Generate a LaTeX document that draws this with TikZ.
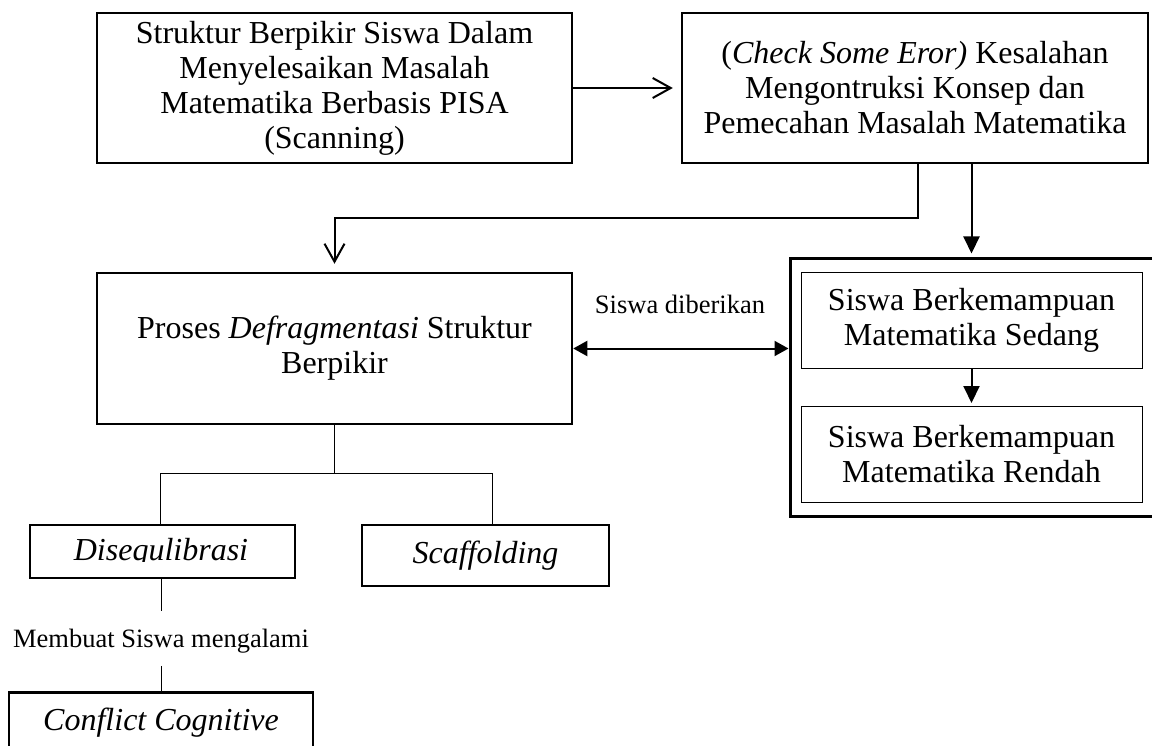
\documentclass[tikz,border=0pt]{standalone}
\usepackage{fontspec}
\setmainfont{Liberation Serif}
\usetikzlibrary{arrows.meta}
\begin{document}
\begin{tikzpicture}[x=1bp,y=-1bp,
  bigfont/.style={font=\fontsize{32bp}{35bp}\selectfont},
  smallfont/.style={font=\fontsize{26.5bp}{30bp}\selectfont},
  mainbox/.style={draw, line width=2.5bp, inner sep=0pt, align=center, bigfont},
  innerbox/.style={draw, line width=1bp, inner sep=0pt, align=center, bigfont},
  groupbox/.style={draw, line width=3bp, inner sep=0pt},
  openarrow/.style={line width=2bp, -{Straight Barb[length=18bp,width=20bp]}},
  fillarrow/.style={line width=2bp, -{Triangle[length=17bp,width=16bp]}},
  botharrow/.style={line width=2bp, {Triangle[length=14bp,width=15bp]}-{Triangle[length=14bp,width=15bp]}},
  thinline/.style={line width=1bp},
  label/.style={smallfont, inner sep=0pt, anchor=base}
]
\useasboundingbox (0,0) rectangle (1152,746);

% top row
\node[mainbox, minimum width=475bp, minimum height=150bp] (scan) at (334.5,88)
  {Struktur Berpikir Siswa Dalam\\Menyelesaikan Masalah\\Matematika Berbasis PISA\\(Scanning)};
\node[mainbox, minimum width=466bp, minimum height=150bp] (check) at (915,88)
  {(\textit{Check Some Eror)} Kesalahan\\Mengontruksi Konsep dan\\Pemecahan Masalah Matematika};

% middle row
\node[mainbox, minimum width=475bp, minimum height=151bp] (defrag) at (334.5,348.5)
  {Proses \textit{Defragmentasi} Struktur\\Berpikir};
\node[groupbox, minimum width=363bp, minimum height=258bp] (group) at (971.5,387) {};
\node[innerbox, minimum width=341bp, minimum height=96bp] (sedang) at (971.5,320)
  {Siswa Berkemampuan\\Matematika Sedang};
\node[innerbox, minimum width=341bp, minimum height=96bp] (rendah) at (971.5,454)
  {Siswa Berkemampuan\\Matematika Rendah};
\node[label] (diberi) at (680,313) {Siswa diberikan};

% lower branch
\node[mainbox, minimum width=265bp, minimum height=53bp] (diseq) at (162.5,551.5) {};
\begin{scope}
  \clip (diseq.north west) rectangle (diseq.east |- 0,561);
  \node[bigfont, inner sep=0pt, anchor=base] (diseqtext) at (161,560) {\textit{Disequlibrasi}};
\end{scope}
\node[mainbox, minimum width=247bp, minimum height=61bp] (scaff) at (485.5,555.5) {\textit{Scaffolding}};
\node[label] (alami) at (161,647) {Membuat Siswa mengalami};
\node[mainbox, minimum width=303.5bp, minimum height=61bp] (conflict) at (161,723) {\textit{Conflict Cognitive}};

% connectors
\draw[openarrow, shorten >=8bp] (scan.east) -- (check.west);
\draw[openarrow, shorten >=8bp] ([xshift=3bp]check.south) |- (334.5,218) -| (defrag.north);
\draw[fillarrow, shorten >=3bp] (group.north |- check.south) -- (group.north);
\draw[fillarrow, shorten >=2.5bp] (sedang.south) -- (rendah.north);
\draw[botharrow] (defrag.east) -- (defrag.east -| group.west);

\coordinate (fork) at (defrag.south |- 0,473);
\draw[thinline] (defrag.south) -- (fork);
\draw[thinline] (fork) -| ([xshift=-2.5bp]diseq.north);
\draw[thinline] (fork) -| ([xshift=6.5bp]scaff.north);
\draw[thinline, shorten >=17bp] (alami.north |- diseq.south) -- (alami.north);
\draw[thinline, shorten <=13bp] (alami.south) -- (alami.south |- conflict.north);
\end{tikzpicture}
\end{document}
